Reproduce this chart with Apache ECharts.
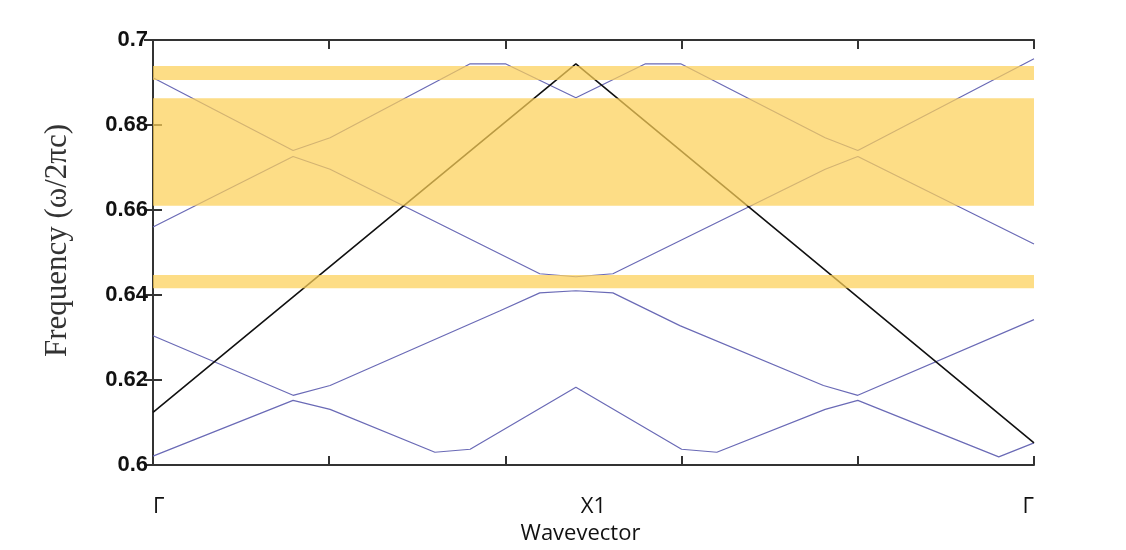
<!DOCTYPE html>
<html>
<head>
<meta charset="utf-8">
<script src="https://cdn.jsdelivr.net/npm/echarts@6/dist/echarts.min.js"></script>
<style>
  html, body { margin: 0; padding: 0; background: #fff; }
  #chart { width: 1126px; height: 550px; }
</style>
</head>
<body>
<div id="chart"></div>
<script>
// band structure, x in [0,1] along Γ - X1 - Γ
const band1 = [[0, 0.6911], [0.159, 0.6740], [0.201, 0.6770], [0.360, 0.6944], [0.400, 0.6944], [0.480, 0.6864], [0.559, 0.6944], [0.599, 0.6944], [0.763, 0.6770], [0.800, 0.6740], [1, 0.6956]];
const band2 = [[0, 0.6560], [0.159, 0.6726], [0.201, 0.6696], [0.439, 0.6450], [0.480, 0.6443], [0.522, 0.6450], [0.763, 0.6696], [0.800, 0.6726], [1, 0.6520]];
const band3 = [[0, 0.6304], [0.159, 0.6164], [0.201, 0.6187], [0.394, 0.6363], [0.439, 0.6405], [0.480, 0.6410], [0.522, 0.6405], [0.598, 0.6328], [0.761, 0.6187], [0.800, 0.6164], [1, 0.6342]];
const band4 = [[0, 0.6021], [0.159, 0.6152], [0.201, 0.6131], [0.320, 0.6030], [0.360, 0.6037], [0.480, 0.6183], [0.600, 0.6037], [0.640, 0.6030], [0.763, 0.6131], [0.800, 0.6152], [0.960, 0.6019], [1, 0.6052]];
const lightLine = [[0, 0.6124], [0.480, 0.6944], [1, 0.6052]];

// band gaps (yellow)
const gaps = [[0.6906, 0.6939], [0.6610, 0.6863], [0.6416, 0.6447]];

// x tick labels
const kPoints = [0, 0.5, 1];
const kLabels = ['Γ', 'X1', 'Γ'];

const yTicks = { min: 0.6, max: 0.7, step: 0.02 };

const chart = echarts.init(document.getElementById('chart'));

const axisLineStyle = { color: '#333', width: 2 };

function bandSeries(data) {
    return {
        type: 'line',
        data: data,
        symbol: 'none',
        lineStyle: { color: '#6a6ab6', width: 1.2 },
        z: 2
    };
}

const option = {
    animation: false,
    grid: { left: 153, right: 92, top: 40, bottom: 83 },
    xAxis: [
        {
            type: 'value', position: 'bottom', min: 0, max: 1, interval: 0.2,
            axisLine: { lineStyle: axisLineStyle },
            axisTick: { inside: true, length: 9, lineStyle: axisLineStyle },
            axisLabel: { show: false },
            splitLine: { show: false }
        },
        {
            type: 'value', position: 'top', min: 0, max: 1, interval: 0.2,
            axisLine: { lineStyle: axisLineStyle },
            axisTick: { inside: true, length: 9, lineStyle: axisLineStyle },
            axisLabel: { show: false },
            splitLine: { show: false }
        },
        {
            type: 'value', position: 'bottom', min: 0, max: 1, interval: 0.5,
            axisLine: { show: false },
            axisTick: { show: false },
            splitLine: { show: false },
            axisLabel: {
                margin: 31,
                color: '#111',
                fontSize: 22,
                fontFamily: 'Open Sans',
                alignMinLabel: 'left',
                alignMaxLabel: 'right',
                formatter: function (v) {
                    const i = kPoints.indexOf(v);
                    return i >= 0 ? kLabels[i] : '';
                }
            },
            name: 'Wavevector',
            nameLocation: 'middle',
            nameGap: 58,
            nameTextStyle: { color: '#111', fontSize: 22, fontFamily: 'Open Sans', padding: [0, 26, 0, 0] }
        }
    ],
    yAxis: [
        {
            type: 'value', position: 'left', min: yTicks.min, max: yTicks.max, interval: yTicks.step,
            axisLine: { show: true, lineStyle: axisLineStyle },
            axisTick: { show: true, inside: true, length: 9, lineStyle: axisLineStyle },
            axisLabel: { color: '#111', fontSize: 22, fontWeight: 'bold', fontFamily: 'Liberation Sans', margin: 5 },
            splitLine: { show: false },
            name: 'Frequency (ω/2πc)',
            nameLocation: 'middle',
            nameGap: 80,
            nameTextStyle: { color: '#333', fontSize: 31, fontFamily: 'Liberation Serif', padding: [0, 0, 0, 24] }
        },
        {
            type: 'value', position: 'right', min: yTicks.min, max: yTicks.max, interval: yTicks.step,
            axisLine: { show: true, lineStyle: axisLineStyle },
            axisTick: { show: true, inside: true, length: 9, lineStyle: axisLineStyle },
            axisLabel: { show: false },
            splitLine: { show: false }
        }
    ],
    series: [
        bandSeries(band1),
        bandSeries(band2),
        bandSeries(band3),
        bandSeries(band4),
        {
            type: 'line',
            data: lightLine,
            symbol: 'none',
            lineStyle: { color: '#111', width: 1.6 },
            z: 3
        },
        {
            type: 'line',
            data: [],
            symbol: 'none',
            z: 10,
            silent: true,
            markArea: {
                silent: true,
                z: 10,
                itemStyle: { color: 'rgba(252, 208, 88, 0.72)' },
                data: gaps.map(g => [{ xAxis: 0, yAxis: g[0] }, { xAxis: 1, yAxis: g[1] }])
            }
        }
    ]
};

chart.setOption(option);
</script>
</body>
</html>
